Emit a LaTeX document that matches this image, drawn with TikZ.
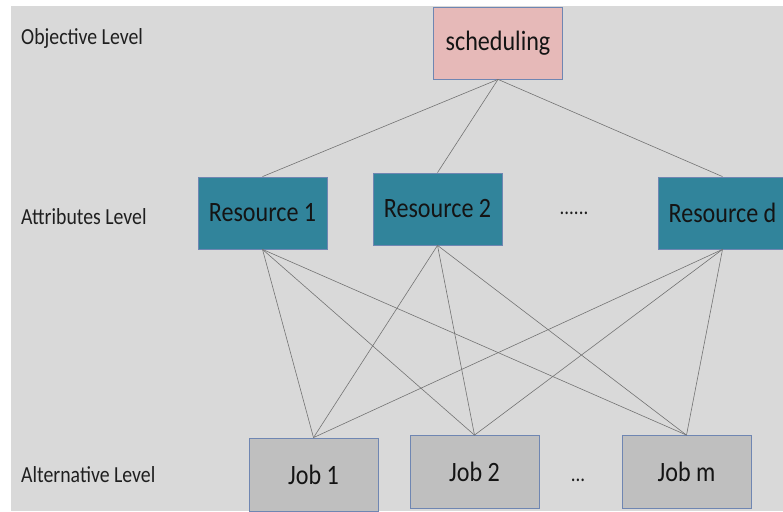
\documentclass[tikz,border=0pt]{standalone}
\usepackage{fontspec}
\setmainfont{Carlito}[FakeStretch=0.86]
\begin{document}
\definecolor{panel}{HTML}{D9D9D9}
\definecolor{goalfill}{HTML}{E6B9B8}
\definecolor{resfill}{HTML}{31849B}
\definecolor{jobfill}{HTML}{BFBFBF}
\definecolor{edgeblue}{HTML}{6F86B2}
\definecolor{wire}{HTML}{737373}
\definecolor{labeltext}{HTML}{1F1F1F}
\tikzset{
  box/.style={draw=edgeblue, line width=0.8pt, minimum width=129pt, minimum height=72pt,
              inner sep=0pt, text=black!92, font=\fontsize{28}{30}\selectfont},
  goalbox/.style={box, fill=goalfill},
  resbox/.style={box, fill=resfill},
  jobbox/.style={box, fill=jobfill, minimum height=73pt},
  levellabel/.style={anchor=base west, inner sep=0pt, text=labeltext, font=\fontsize{23}{25}\selectfont},
  ellipsis/.style={inner sep=0pt, text=labeltext, font=\fontsize{22}{24}\selectfont},
  link/.style={draw=wire, line width=0.6pt}
}
\begin{tikzpicture}[x=1pt, y=-1pt]
  \clip (0,0) rectangle (783,511);
  \fill[white] (0,0) rectangle (783,511);
  \fill[panel] (10.5,6.5) rectangle (783,511);

  % level captions
  \node[levellabel] (lobj) at (21,45) {Objective Level};
  \node[levellabel] (latt) at (21,224) {Attributes Level};
  \node[levellabel] (lalt) at (21,482) {Alternative Level};

  % objective
  \node[goalbox] (sched) at (498,43) {scheduling};

  % attributes
  \node[resbox] (r1) at (262.5,213) {Resource 1};
  \node[resbox] (r2) at (437.5,209) {Resource 2};
  \node[resbox] (rd) at (722.5,213) {Resource d};
  \node[ellipsis, anchor=base] (rdots) at (574,214) {......};

  % alternatives
  \node[jobbox] (j1) at (313.5,474.5) {Job 1};
  \node[jobbox] (j2) at (474.5,472) {Job 2};
  \node[jobbox] (jm) at (686.5,472) {Job m};
  \node[ellipsis, anchor=base] (jdots) at (578,481) {...};

  % links
  \foreach \r in {r1,r2,rd}
    \draw[link] (sched.south) -- (\r.north);
  \foreach \r in {r1,r2,rd}
    \foreach \j in {j1,j2,jm}
      \draw[link] (\r.south) -- (\j.north);
\end{tikzpicture}
\end{document}
